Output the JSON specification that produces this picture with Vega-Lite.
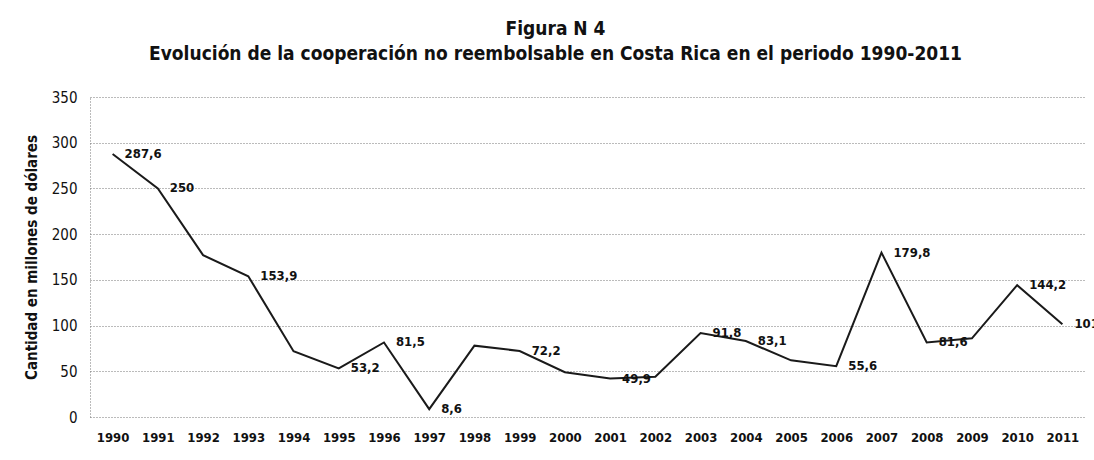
{
  "$schema": "https://vega.github.io/schema/vega-lite/v6.json",
  "width": 995,
  "height": 320,
  "autosize": {"type": "none"},
  "padding": {"left": 90, "top": 97, "right": 9, "bottom": 43},
  "background": "white",
  "title": {
    "text": ["Figura N 4", "Evolución de la cooperación no reembolsable en Costa Rica en el periodo 1990-2011"],
    "font": "DejaVu Sans Condensed",
    "fontSize": 19,
    "fontWeight": "bold",
    "color": "#111",
    "lineHeight": 25,
    "anchor": "middle",
    "dx": -32,
    "offset": 26
  },
  "data": {
    "values": [
      {"year": "1990", "value": 287.6, "label": "287,6"},
      {"year": "1991", "value": 250, "label": "250"},
      {"year": "1992", "value": 177, "label": ""},
      {"year": "1993", "value": 153.9, "label": "153,9"},
      {"year": "1994", "value": 72, "label": ""},
      {"year": "1995", "value": 53.2, "label": "53,2"},
      {"year": "1996", "value": 81.5, "label": "81,5"},
      {"year": "1997", "value": 8.6, "label": "8,6"},
      {"year": "1998", "value": 78, "label": ""},
      {"year": "1999", "value": 72.2, "label": "72,2"},
      {"year": "2000", "value": 49, "label": ""},
      {"year": "2001", "value": 42, "label": "49,9"},
      {"year": "2002", "value": 44, "label": ""},
      {"year": "2003", "value": 91.8, "label": "91,8"},
      {"year": "2004", "value": 83.1, "label": "83,1"},
      {"year": "2005", "value": 62, "label": ""},
      {"year": "2006", "value": 55.6, "label": "55,6"},
      {"year": "2007", "value": 179.8, "label": "179,8"},
      {"year": "2008", "value": 81.6, "label": "81,6"},
      {"year": "2009", "value": 86, "label": ""},
      {"year": "2010", "value": 144.2, "label": "144,2"},
      {"year": "2011", "value": 101.4, "label": "101,4"}
    ]
  },
  "encoding": {
    "x": {
      "field": "year",
      "type": "ordinal",
      "scale": {"type": "point", "padding": 0.5},
      "axis": {
        "title": null,
        "labelAngle": 0,
        "labelFont": "DejaVu Sans Condensed",
        "labelFontSize": 13,
        "labelFontWeight": "bold",
        "labelColor": "#111",
        "labelPadding": 14,
        "ticks": false,
        "domain": false,
        "grid": false
      }
    },
    "y": {
      "field": "value",
      "type": "quantitative",
      "scale": {"domain": [0, 350], "nice": false},
      "axis": {
        "title": "Cantidad en millones de dólares",
        "titleFont": "DejaVu Sans Condensed",
        "titleFontSize": 15,
        "titleFontWeight": "bold",
        "titleColor": "#111",
        "titlePadding": 12,
        "values": [0, 50, 100, 150, 200, 250, 300, 350],
        "labelFont": "DejaVu Sans Condensed",
        "labelFontSize": 15,
        "labelColor": "#111",
        "labelPadding": 13,
        "ticks": false,
        "domain": true,
        "domainColor": "#777",
        "domainDash": [1, 2],
        "grid": true,
        "gridColor": "#777",
        "gridDash": [1, 2],
        "gridWidth": 1
      }
    }
  },
  "layer": [
    {
      "mark": {"type": "line", "color": "#1a1a1a", "strokeWidth": 2}
    },
    {
      "mark": {
        "type": "text",
        "align": "left",
        "baseline": "middle",
        "dx": 12,
        "font": "DejaVu Sans Condensed",
        "fontSize": 13,
        "fontWeight": "bold",
        "color": "#111"
      },
      "encoding": {"text": {"field": "label"}}
    }
  ],
  "config": {"view": {"stroke": null}}
}
